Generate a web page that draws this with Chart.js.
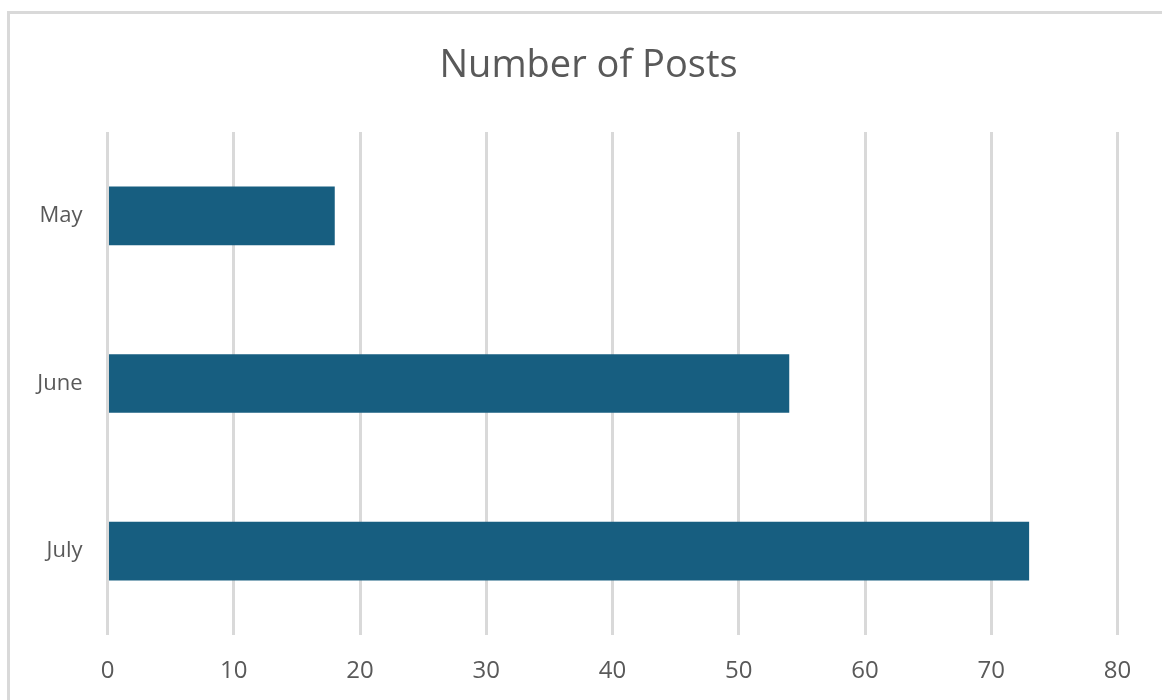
<!DOCTYPE html>
<html>
<head>
<meta charset="utf-8">
<script src="https://cdn.jsdelivr.net/npm/chart.js@4.4.1/dist/chart.umd.min.js"></script>
<style>
  html, body { margin: 0; padding: 0; background: #ffffff; overflow: hidden; }
  #wrap { position: relative; width: 1162px; height: 700px; }
  #frame {
    position: absolute; left: 7px; top: 11px;
    width: 1200px; height: 760px;
    border: 3px solid #d9d9d9; box-sizing: border-box;
  }
  #chart { position: absolute; left: 0; top: 0; }
</style>
</head>
<body>
<div id="wrap">
  <div id="frame"></div>
  <canvas id="chart" width="1162" height="700"></canvas>
</div>
<script>
// Monthly post counts
const months = ["May", "June", "July"];
const posts = [18, 54, 73];
const xTicks = [0, 10, 20, 30, 40, 50, 60, 70, 80];

const textColor = "#595959";
const gridColor = "#d9d9d9";
const barColor = "#175e80";
const fontFamily = "'Open Sans', 'Noto Sans', sans-serif";

// Narrow the title block on the left so the heading sits a little right of the canvas centre
const titleShift = {
  id: "titleShift",
  afterLayout(chart) {
    if (chart.titleBlock) {
      chart.titleBlock.left = 59.5;
      chart.titleBlock.width = chart.titleBlock.right - chart.titleBlock.left;
    }
  }
};

new Chart(document.getElementById("chart"), {
  type: "bar",
  data: {
    labels: months,
    datasets: [{
      label: "Number of Posts",
      data: posts,
      backgroundColor: barColor,
      borderWidth: 0,
      barPercentage: 0.35,
      categoryPercentage: 1.0
    }]
  },
  plugins: [titleShift],
  options: {
    indexAxis: "y",
    responsive: false,
    animation: false,
    layout: { padding: { left: 0, right: 44.5, top: 0, bottom: 0 } },
    plugins: {
      legend: { display: false },
      tooltip: { enabled: false },
      title: {
        display: true,
        text: "Number of Posts",
        color: textColor,
        font: { family: fontFamily, size: 38, weight: "normal", lineHeight: 1.2 },
        padding: { top: 43, bottom: 43.4 }
      }
    },
    scales: {
      x: {
        min: xTicks[0],
        max: xTicks[xTicks.length - 1],
        afterBuildTicks: (scale) => { scale.ticks = xTicks.map(v => ({ value: v })); },
        afterFit: (scale) => { scale.height = 65; },
        border: { display: false },
        grid: { color: gridColor, lineWidth: 3, drawTicks: false },
        ticks: {
          color: textColor,
          padding: 22,
          font: { family: fontFamily, size: 24, lineHeight: 1.2 }
        }
      },
      y: {
        afterFit: (scale) => { scale.width = 107.5; },
        border: { display: false },
        grid: { display: false, drawTicks: false },
        ticks: {
          color: textColor,
          padding: 25,
          font: { family: fontFamily, size: 22, lineHeight: 1.2 }
        }
      }
    }
  }
});
</script>
</body>
</html>
